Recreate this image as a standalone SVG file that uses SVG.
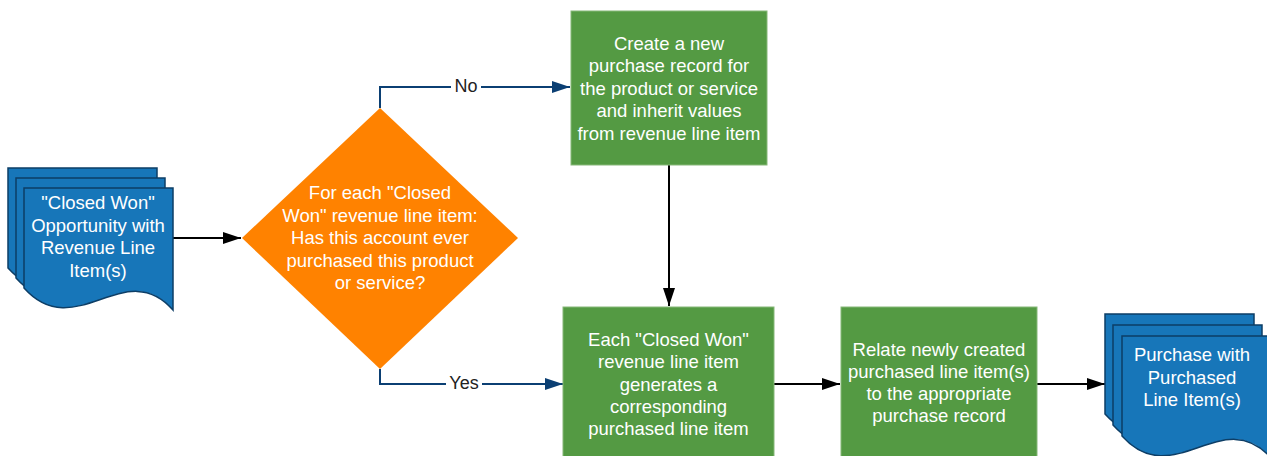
<svg xmlns="http://www.w3.org/2000/svg" xmlns:xlink="http://www.w3.org/1999/xlink" width="1267" height="456" viewBox="0 0 1267 456">
<defs>
<style>
.doc{fill:#1776b9;stroke:#0d3e66;stroke-width:1.5}
.proc{fill:#549a43;stroke:#86b878;stroke-width:1}
.dec{fill:#ff8200;stroke:none}
.t{font-family:"Liberation Sans",Arial,sans-serif;font-size:18.5px;fill:#ffffff;text-anchor:middle}
.lbl{font-family:"Liberation Sans",Arial,sans-serif;font-size:18px;fill:#222222;text-anchor:middle}
.blk{fill:none;stroke:#000000;stroke-width:2}
.nav{fill:none;stroke:#0b3f73;stroke-width:2}
</style>
<path id="docshape" d="M0,0 H149 V122 C101,67 51,157 0,100 Z"/>
<marker id="ab" markerWidth="18" markerHeight="12" refX="18" refY="6" orient="auto" markerUnits="userSpaceOnUse">
<path d="M0,0 L18,6 L0,12 Z" fill="#000000"/>
</marker>
<marker id="an" markerWidth="18" markerHeight="12" refX="18" refY="6" orient="auto" markerUnits="userSpaceOnUse">
<path d="M0,0 L18,6 L0,12 Z" fill="#0b3f73"/>
</marker>
</defs>

<g id="connectors">
<path class="blk" d="M173,238 H241" marker-end="url(#ab)"/>
<path class="nav" d="M380,108 V87 H570" marker-end="url(#an)"/>
<path class="nav" d="M380,369 V384 H563" marker-end="url(#an)"/>
<path class="blk" d="M669,165 V306" marker-end="url(#ab)"/>
<path class="blk" d="M774,384 H840" marker-end="url(#ab)"/>
<path class="blk" d="M1037,384 H1105" marker-end="url(#ab)"/>
<rect x="451" y="76" width="30" height="20" fill="#ffffff"/>
<text class="lbl" x="466" y="92">No</text>
<rect x="446" y="373" width="36" height="20" fill="#ffffff"/>
<text class="lbl" x="464" y="389">Yes</text>
</g>

<g id="input-doc">
<use href="#docshape" class="doc" transform="translate(8,168)"/>
<use href="#docshape" class="doc" transform="translate(16,178)"/>
<use href="#docshape" class="doc" transform="translate(24,188)"/>
<text class="t" x="98" y="209">"Closed Won"</text>
<text class="t" x="98" y="231.5">Opportunity with</text>
<text class="t" x="98" y="254">Revenue Line</text>
<text class="t" x="98" y="277">Item(s)</text>
</g>

<g id="decision">
<polygon class="dec" points="380,108 518,238 380,369 242,238"/>
<text class="t" x="380" y="199">For each "Closed</text>
<text class="t" x="380" y="221.5">Won" revenue line item:</text>
<text class="t" x="380" y="244">Has this account ever</text>
<text class="t" x="380" y="266.5">purchased this product</text>
<text class="t" x="380" y="289">or service?</text>
</g>

<g id="create-purchase">
<rect class="proc" x="571" y="11" width="196" height="154"/>
<text class="t" x="669" y="49.5">Create a new</text>
<text class="t" x="669" y="72">purchase record for</text>
<text class="t" x="669" y="94.5">the product or service</text>
<text class="t" x="669" y="117">and inherit values</text>
<text class="t" x="669" y="139.5">from revenue line item</text>
</g>

<g id="generate-line-item">
<rect class="proc" x="563" y="307" width="211" height="152"/>
<text class="t" x="668.5" y="346">Each "Closed Won"</text>
<text class="t" x="668.5" y="368">revenue line item</text>
<text class="t" x="668.5" y="391">generates a</text>
<text class="t" x="668.5" y="413">corresponding</text>
<text class="t" x="668.5" y="435">purchased line item</text>
</g>

<g id="relate">
<rect class="proc" x="841" y="307" width="196" height="152"/>
<text class="t" x="939" y="355.5">Relate newly created</text>
<text class="t" x="939" y="378">purchased line item(s)</text>
<text class="t" x="939" y="400">to the appropriate</text>
<text class="t" x="939" y="422">purchase record</text>
</g>

<g id="output-doc">
<use href="#docshape" class="doc" transform="translate(1105,314)"/>
<use href="#docshape" class="doc" transform="translate(1113,325)"/>
<use href="#docshape" class="doc" transform="translate(1122,336)"/>
<text class="t" x="1192" y="361">Purchase with</text>
<text class="t" x="1192" y="383.5">Purchased</text>
<text class="t" x="1192" y="405.5">Line Item(s)</text>
</g>
</svg>
